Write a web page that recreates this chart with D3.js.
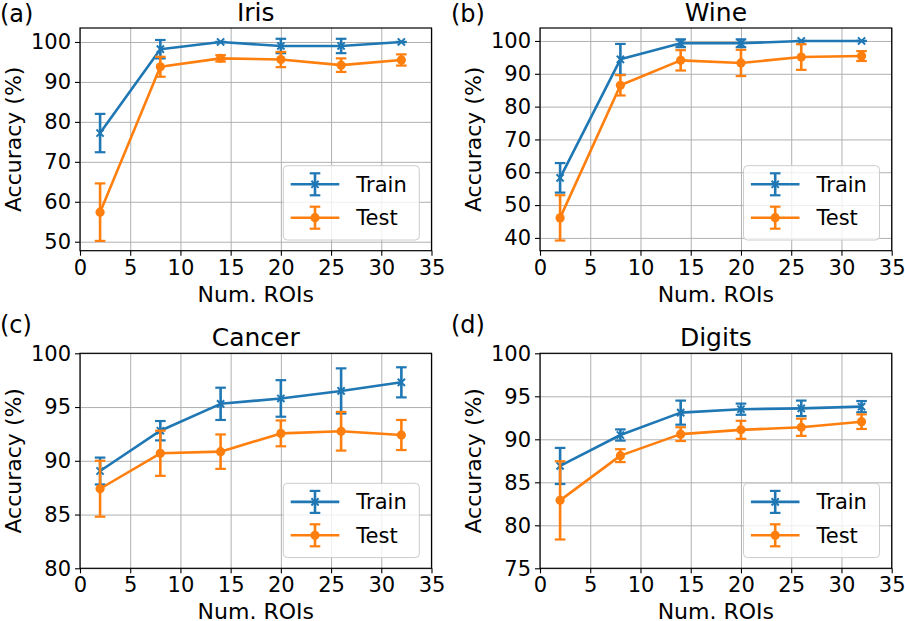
<!DOCTYPE html>
<html>
<head>
<meta charset="utf-8">
<script src="https://cdn.jsdelivr.net/npm/d3@7"></script>
<style>
  body { margin: 0; background: #fff; }
  svg text { font-family: "DejaVu Sans", sans-serif; fill: #000; }
</style>
</head>
<body>
<svg id="chart" width="905" height="621"></svg>
<script>
// number of ROIs on the x axis
const rois = [2, 8, 14, 20, 26, 32];

const irisTrain    = [77.2, 98.2, 100.0, 99.0, 99.0, 100.0];
const irisTrainErr = [4.8, 2.3, 0.0, 1.8, 1.8, 0.0];
const irisTest     = [57.4, 93.8, 95.9, 95.6, 94.2, 95.5];
const irisTestErr  = [7.2, 2.5, 0.8, 1.9, 1.7, 1.4];

const wineTrain    = [58.3, 94.4, 99.3, 99.3, 100.0, 100.0];
const wineTrainErr = [4.5, 4.7, 1.2, 1.2, 0.0, 0.0];
const wineTest     = [46.1, 86.5, 94.1, 93.3, 95.1, 95.4];
const wineTestErr  = [6.9, 3.1, 3.1, 4.0, 3.9, 1.5];

const cancerTrain    = [89.05, 92.8, 95.3, 95.8, 96.5, 97.3];
const cancerTrainErr = [1.25, 0.9, 1.5, 1.7, 2.1, 1.4];
const cancerTest     = [87.4, 90.7, 90.85, 92.55, 92.75, 92.4];
const cancerTestErr  = [2.6, 2.1, 1.6, 1.2, 1.8, 1.4];

const digitsTrain    = [86.9, 90.5, 93.1, 93.5, 93.6, 93.8];
const digitsTrainErr = [2.1, 0.65, 1.4, 0.65, 0.9, 0.65];
const digitsTest     = [82.9, 88.1, 90.6, 91.1, 91.4, 92.05];
const digitsTestErr  = [4.55, 0.75, 0.8, 1.05, 1.0, 0.85];

const xTicks = [0, 5, 10, 15, 20, 25, 30, 35];
const irisTicks = [50, 60, 70, 80, 90, 100];
const wineTicks = [40, 50, 60, 70, 80, 90, 100];
const cancerTicks = [80, 85, 90, 95, 100];
const digitsTicks = [75, 80, 85, 90, 95, 100];

const seriesNames = ["Train", "Test"];
const colors = {Train: "#1f77b4", Test: "#ff7f0e"};

const panels = [
    {tag: "(a)", title: "Iris", yDomain: [47.75, 103.5], yTicks: irisTicks,
     train: irisTrain, trainErr: irisTrainErr, test: irisTest, testErr: irisTestErr,
     box: {left: 80, right: 431.5, top: 28, bottom: 250.7}, tagPos: [0, 22]},
    {tag: "(b)", title: "Wine", yDomain: [36.1, 103.95], yTicks: wineTicks,
     train: wineTrain, trainErr: wineTrainErr, test: wineTest, testErr: wineTestErr,
     box: {left: 540, right: 891.7, top: 28, bottom: 250.7}, tagPos: [451, 22]},
    {tag: "(c)", title: "Cancer", yDomain: [80, 100], yTicks: cancerTicks,
     train: cancerTrain, trainErr: cancerTrainErr, test: cancerTest, testErr: cancerTestErr,
     box: {left: 80, right: 431.5, top: 353.3, bottom: 568.3}, tagPos: [0, 333]},
    {tag: "(d)", title: "Digits", yDomain: [75, 100], yTicks: digitsTicks,
     train: digitsTrain, trainErr: digitsTrainErr, test: digitsTest, testErr: digitsTestErr,
     box: {left: 540, right: 891.7, top: 353.3, bottom: 568.3}, tagPos: [451, 333]}
];

const svg = d3.select("#chart");
const capHalf = 5.3;
const lineWidth = 2.6;

function drawMarker(g, kind, x, y, color){
    if(kind === "Train"){
        const s = 3.6;
        g.append("path")
            .attr("d", `M${x - s},${y - s}L${x + s},${y + s}M${x - s},${y + s}L${x + s},${y - s}`)
            .attr("stroke", color)
            .attr("stroke-width", 2)
            .attr("fill", "none");
    }
    else{
        g.append("circle")
            .attr("cx", x).attr("cy", y).attr("r", 4.6)
            .attr("fill", color);
    }
}

function drawPanel(p){
    const b = p.box;
    const w = b.right - b.left, h = b.bottom - b.top;
    const g = svg.append("g").attr("transform", `translate(${b.left},${b.top})`);

    const x = d3.scaleLinear().domain([0, 35]).range([0, w]);
    const y = d3.scaleLinear().domain(p.yDomain).range([h, 0]);

    // grid
    g.append("g")
        .attr("transform", `translate(0,${h})`)
        .call(d3.axisBottom(x).tickValues(xTicks).tickSize(-h).tickFormat(""))
        .call(a => a.select(".domain").remove())
        .selectAll("line").attr("stroke", "#b0b0b0").attr("stroke-width", 1);
    g.append("g")
        .call(d3.axisLeft(y).tickValues(p.yTicks).tickSize(-w).tickFormat(""))
        .call(a => a.select(".domain").remove())
        .selectAll("line").attr("stroke", "#b0b0b0").attr("stroke-width", 1);

    // series
    const line = d3.line().x(d => x(d.x)).y(d => y(d.v));
    seriesNames.forEach(name => {
        const vals = name === "Train" ? p.train : p.test;
        const errs = name === "Train" ? p.trainErr : p.testErr;
        const pts = rois.map((r, i) => ({x: r, v: vals[i], e: errs[i]}));
        const c = colors[name];
        const sg = g.append("g");
        sg.append("path")
            .datum(pts)
            .attr("d", line)
            .attr("fill", "none")
            .attr("stroke", c)
            .attr("stroke-width", lineWidth)
            .attr("stroke-linejoin", "round");
        pts.forEach(d => {
            const px = x(d.x);
            sg.append("line")
                .attr("x1", px).attr("x2", px)
                .attr("y1", y(d.v - d.e)).attr("y2", y(d.v + d.e))
                .attr("stroke", c).attr("stroke-width", lineWidth);
            [d.v - d.e, d.v + d.e].forEach(cv => {
                sg.append("line")
                    .attr("x1", px - capHalf).attr("x2", px + capHalf)
                    .attr("y1", y(cv)).attr("y2", y(cv))
                    .attr("stroke", c).attr("stroke-width", 2.2);
            });
            drawMarker(sg, name, px, y(d.v), c);
        });
    });

    // axes
    const xAxis = g.append("g")
        .attr("transform", `translate(0,${h})`)
        .call(d3.axisBottom(x).tickValues(xTicks).tickSize(5).tickPadding(4));
    const yAxis = g.append("g")
        .call(d3.axisLeft(y).tickValues(p.yTicks).tickSize(5).tickPadding(4));
    [xAxis, yAxis].forEach(a => {
        a.select(".domain").remove();
        a.selectAll("line").attr("stroke", "#000").attr("stroke-width", 1.1);
        a.selectAll("text").style("font-size", "21px").style("font-family", "DejaVu Sans");
    });

    g.append("rect")
        .attr("width", w).attr("height", h)
        .attr("fill", "none").attr("stroke", "#000").attr("stroke-width", 1.2);

    // labels
    g.append("text")
        .attr("x", w / 2).attr("y", -7.3)
        .attr("text-anchor", "middle")
        .style("font-size", "25px")
        .text(p.title);
    g.append("text")
        .attr("x", w / 2).attr("y", h + 51)
        .attr("text-anchor", "middle")
        .style("font-size", "22px")
        .text("Num. ROIs");
    g.append("text")
        .attr("transform", `translate(${-59},${h / 2}) rotate(-90)`)
        .attr("text-anchor", "middle")
        .style("font-size", "22px")
        .text("Accuracy (%)");
    svg.append("text")
        .attr("x", p.tagPos[0]).attr("y", p.tagPos[1])
        .style("font-size", "24px")
        .text(p.tag);

    // legend
    const lg = g.append("g").attr("transform", `translate(${w - 148.2},${h - 85})`);
    lg.append("rect")
        .attr("width", 136).attr("height", 74.3).attr("rx", 4)
        .attr("fill", "#fff").attr("fill-opacity", 0.8)
        .attr("stroke", "#cccccc").attr("stroke-width", 1);
    seriesNames.forEach((name, i) => {
        const cy = 18.6 + i * 33.4;
        const c = colors[name];
        lg.append("line")
            .attr("x1", 7.4).attr("x2", 56).attr("y1", cy).attr("y2", cy)
            .attr("stroke", c).attr("stroke-width", lineWidth);
        lg.append("line")
            .attr("x1", 31.7).attr("x2", 31.7).attr("y1", cy - 11).attr("y2", cy + 11)
            .attr("stroke", c).attr("stroke-width", lineWidth);
        [cy - 11, cy + 11].forEach(cv => {
            lg.append("line")
                .attr("x1", 31.7 - capHalf).attr("x2", 31.7 + capHalf)
                .attr("y1", cv).attr("y2", cv)
                .attr("stroke", c).attr("stroke-width", 2.2);
        });
        drawMarker(lg, name, 31.7, cy, c);
        lg.append("text")
            .attr("x", 73).attr("y", cy)
            .attr("dy", "0.36em")
            .style("font-size", "21px")
            .text(name);
    });
}

panels.forEach(drawPanel);
</script>
</body>
</html>
